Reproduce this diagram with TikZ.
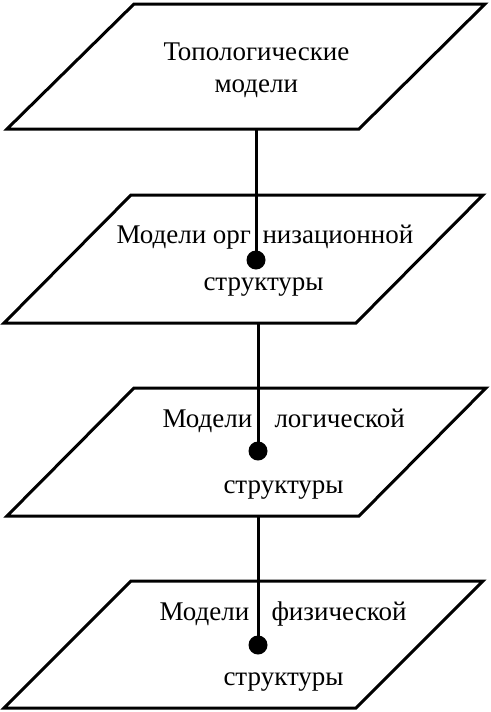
\documentclass[tikz,border=0pt]{standalone}
\usepackage{fontspec}
\setmainfont{Liberation Serif}
\usepackage{tikz}

\begin{document}
\begin{tikzpicture}[x=1pt,y=-1pt,line width=3pt,
    plane/.style={draw,line join=miter},
    txt/.style={anchor=base west,inner sep=0pt,font=\fontsize{27}{32}\selectfont},
    dot/.style={circle,fill,inner sep=0pt,minimum size=19pt}]
    \useasboundingbox (0,0) rectangle (490,712);
    % planes
    \draw[plane] (134,4) -- (485,4) -- (359,129) -- (7,129) -- cycle;
    \draw[plane] (131,195) -- (483,195) -- (356,323) -- (4,323) -- cycle;
    \draw[plane] (134,388) -- (486,388) -- (359,516) -- (7,516) -- cycle;
    \draw[plane] (131,581) -- (483,581) -- (356,708) -- (4,708) -- cycle;
    % labels
    \node[txt] (top1) at (162,60) {Топологические};
    \node[txt] (top2) at (213,92) {модели};
    \node[txt] (org1) at (115,243) {Модели орг};
    \node[txt] (org2) at (261,243) {низационной};
    \node[txt] (org3) at (202,290) {структуры};
    \node[txt] (log1) at (161,427) {Модели};
    \node[txt] (log2) at (273,427) {логической};
    \node[txt] (log3) at (222,493) {структуры};
    \node[txt] (phy1) at (158,620) {Модели};
    \node[txt] (phy2) at (270,620) {физической};
    \node[txt] (phy3) at (222,685) {структуры};
    % links
    \coordinate (b1) at (256,129);
    \coordinate (b2) at (258,323);
    \coordinate (b3) at (258,516);
    \node[dot] (d2) at (256,260) {};
    \node[dot] (d3) at (258,451) {};
    \node[dot] (d4) at (258,645) {};
    \draw (b1) -- (d2.center);
    \draw (b2) -- (d3.center);
    \draw (b3) -- (d4.center);
\end{tikzpicture}
\end{document}
